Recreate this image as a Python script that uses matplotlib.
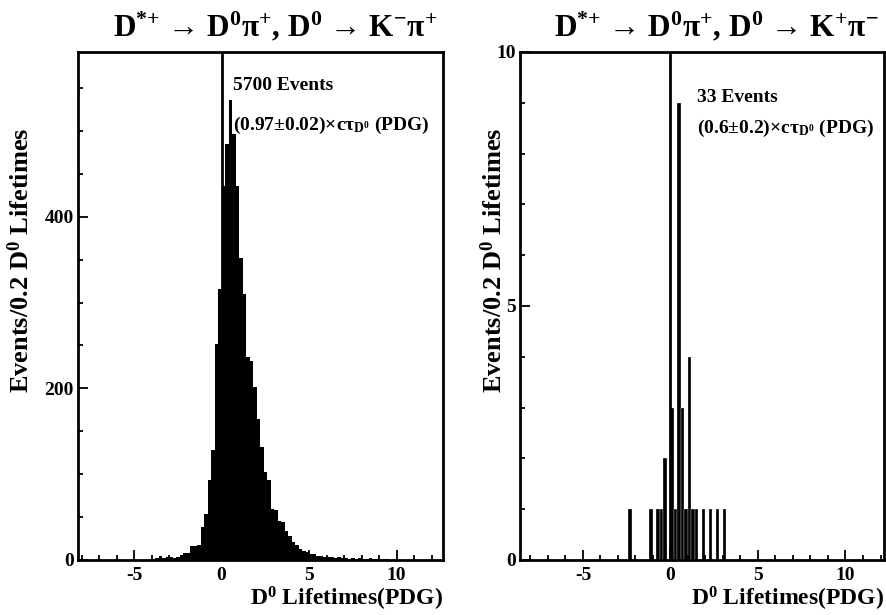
import numpy as np
import matplotlib.pyplot as plt
from matplotlib.ticker import MultipleLocator, FixedLocator

plt.rcParams['font.family'] = ['Liberation Serif', 'DejaVu Serif']
plt.rcParams['font.weight'] = 'bold'
plt.rcParams['mathtext.fontset'] = 'custom'
plt.rcParams['mathtext.rm'] = 'Liberation Serif:bold'
plt.rcParams['mathtext.it'] = 'Liberation Serif:bold'
plt.rcParams['mathtext.bf'] = 'Liberation Serif:bold'
plt.rcParams['mathtext.default'] = 'bf'
plt.rcParams['axes.unicode_minus'] = False

# Right-sign decays (K- pi+): 0.2 wide bins starting at -4.0
left_start = -4.0
left_counts = [1, 2, 5, 2, 3, 3, 2, 4, 6, 8,
               8, 16, 16, 17, 39, 54, 93, 128, 252, 316,
               436, 485, 536, 496, 436, 352, 310, 236, 232, 202,
               164, 132, 102, 93, 60, 58, 46, 44, 34, 28,
               21, 17, 13, 11, 9, 7, 7, 5, 5, 4,
               3, 3, 2, 3, 2, 2, 1, 2, 1, 2,
               1, 1, 2, 1, 1, 0, 1, 1, 0, 1]

# Wrong-sign decays (K+ pi-): bin left edges and counts
right_edges = [-2.4, -1.2, -0.8, -0.6, -0.4, 0.0, 0.2, 0.4, 0.6,
               0.8, 1.0, 1.2, 1.4, 1.8, 2.2, 2.6, 3.0]
right_counts = [1, 1, 1, 1, 2, 3, 1, 9, 3, 1, 4, 1, 1, 1, 1, 1, 1]

fig = plt.figure(figsize=(8.87, 6.15), dpi=100)
ax1 = fig.add_axes([78/887, 1-560/615, 365/887, 508/615])
ax2 = fig.add_axes([520/887, 1-560/615, 364/887, 508/615])

edges = left_start + 0.2*np.arange(len(left_counts) + 1)
ax1.stairs(left_counts, edges, fill=True, color='black')
ax1.axvline(0, color='black', lw=2)
ax1.set_xlim(-8.2, 12.65)
ax1.set_ylim(0, 592)
ax1.yaxis.set_major_locator(FixedLocator([0, 200, 400]))
ax1.yaxis.set_minor_locator(MultipleLocator(50))

ax2.bar(right_edges, right_counts, width=0.2, align='edge', color='black',
        edgecolor='white', linewidth=0.2)
ax2.axvline(0, color='black', lw=2)
ax2.set_xlim(-8.6, 12.2)
ax2.set_ylim(0, 10)
ax2.yaxis.set_major_locator(FixedLocator([0, 5, 10]))
ax2.yaxis.set_minor_locator(MultipleLocator(1))

titles = [r'D$^{{*}{+}}$ → D$^{0}$π$^{+}$, D$^{0}$ → K$^{-}$π$^{+}$',
          r'D$^{{*}{+}}$ → D$^{0}$π$^{+}$, D$^{0}$ → K$^{+}$π$^{-}$']

for ax, t in zip([ax1, ax2], titles):
    ax.xaxis.set_major_locator(FixedLocator([-5, 0, 5, 10]))
    ax.xaxis.set_minor_locator(MultipleLocator(1))
    ax.tick_params(which='both', direction='in', width=1.3, labelsize=14, pad=3)
    ax.tick_params(which='major', length=7)
    ax.tick_params(which='minor', length=3.5)
    ax.tick_params(axis='x', pad=5)
    for s in ax.spines.values():
        s.set_linewidth(2)
    ax.set_title(t, fontsize=22.5, fontweight='bold', pad=11, x=0.54)
    ax.set_xlabel(r'D$^{0}$ Lifetimes(PDG)', fontsize=17, fontweight='bold')
    ax.xaxis.set_label_coords(1.0, -0.048)
    ax.xaxis.label.set_horizontalalignment('right')
    ax.set_ylabel(r'Events/0.2 D$^{0}$ Lifetimes', fontsize=19, fontweight='bold')

ax1.yaxis.set_label_coords(-0.12, 0.59)
ax2.yaxis.set_label_coords(-0.036, 0.59)

ax1.text(0.63, 553, '5700 Events', fontsize=14, fontweight='bold', va='center')
ax1.text(0.63, 507, r'(0.97$\pm$0.02)$\times$c$\tau_{D^0}$ (PDG)', fontsize=14,
         fontweight='bold', va='center')
ax2.text(1.54, 9.1, '33 Events', fontsize=14, fontweight='bold', va='center')
ax2.text(1.54, 8.5, r'(0.6$\pm$0.2)$\times$c$\tau_{D^0}$ (PDG)', fontsize=14,
         fontweight='bold', va='center')

fig.savefig('out.png', dpi=100)
